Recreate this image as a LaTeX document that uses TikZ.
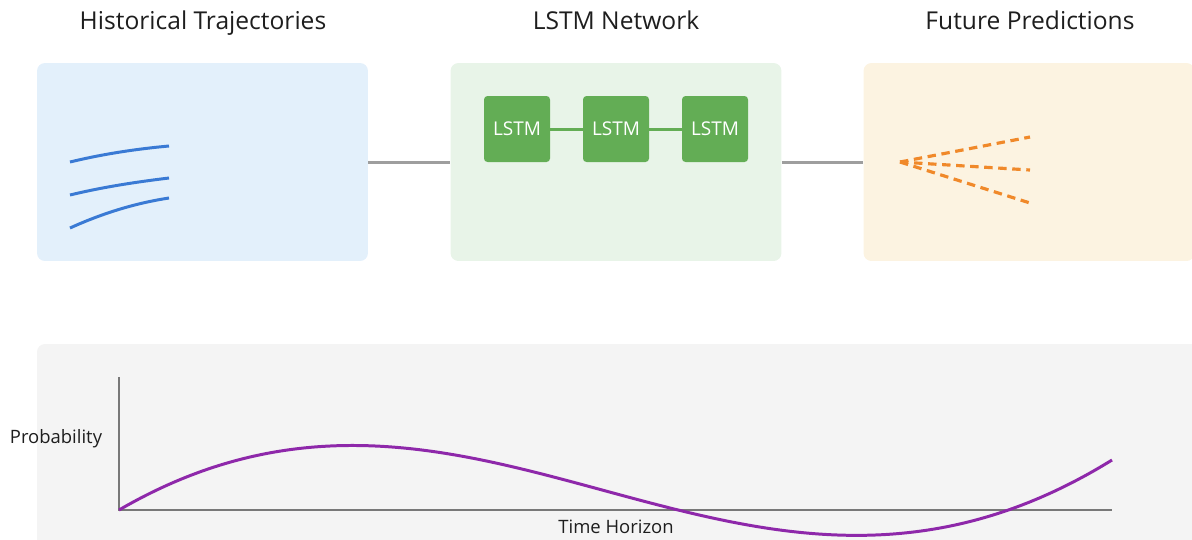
\documentclass[tikz,border=0pt]{standalone}
\usepackage{fontspec}
\setmainfont{Open Sans}

\definecolor{histfill}{RGB}{227,240,251}
\definecolor{netfill}{RGB}{232,244,232}
\definecolor{futfill}{RGB}{252,243,225}
\definecolor{plotfill}{RGB}{244,244,244}
\definecolor{cellgreen}{RGB}{99,173,85}
\definecolor{trajblue}{RGB}{58,122,212}
\definecolor{predorange}{RGB}{240,137,42}
\definecolor{probpurple}{RGB}{142,40,170}
\definecolor{linkgray}{RGB}{158,158,158}
\definecolor{axisgray}{RGB}{120,120,120}
\definecolor{textdark}{RGB}{30,30,30}

\begin{document}
\begin{tikzpicture}[x=0.02cm,y=-0.02cm,
    panel/.style={rounded corners=4.5pt, minimum width=6.62cm, minimum height=3.96cm, inner sep=0pt},
    cell/.style={fill=cellgreen, rounded corners=2pt, minimum size=1.32cm, inner sep=0pt,
                 text=white, font=\fontsize{10.8}{12}\selectfont},
    title/.style={anchor=base, text=textdark, font=\fontsize{14}{16}\selectfont},
    axislabel/.style={anchor=base, text=textdark, font=\fontsize{10.5}{12}\selectfont},
    link/.style={draw=linkgray, line width=1.7pt},
    traj/.style={draw=trajblue, line width=1.7pt},
    pred/.style={draw=predorange, line width=1.8pt, dash pattern=on 4.8pt off 3.2pt}]

\useasboundingbox (0,0) rectangle (1192,539);

% ===== Panels =====
\node[panel, fill=histfill] (hist) at (202.5,162) {};
\node[panel, fill=netfill]  (net)  at (616,162) {};
\node[panel, fill=futfill]  (fut)  at (1029,162) {};

\node[title] (histtitle) at (203,29)  {Historical Trajectories};
\node[title] (nettitle)  at (616,29)  {LSTM Network};
\node[title] (futtitle)  at (1030,29) {Future Predictions};

% ===== Links between panels =====
\draw[link] (hist.east) -- (net.west);
\draw[link] (net.east) -- (fut.west);

% ===== LSTM cells =====
\foreach \i/\x in {1/517,2/616,3/715} {
    \node[cell] (cell\i) at (\x,129) {LSTM};
}
\draw[draw=cellgreen, line width=1.7pt] (cell1) -- (cell2);
\draw[draw=cellgreen, line width=1.7pt] (cell2) -- (cell3);

% ===== Past trajectories =====
\draw[traj] (70,162) .. controls (103,154) and (136,149) .. (169,146);
\draw[traj] (70,195) .. controls (103,187) and (136,182) .. (169,178);
\draw[traj] (70,228) .. controls (103,213) and (136,203) .. (169,198);

% ===== Predicted spread =====
\coordinate (fork) at (900,162);
\foreach \y in {137,170,203} {
    \coordinate (tip) at (1030,\y);
    \draw[pred] (fork) -- (tip);
}

% ===== Probability over time =====
\fill[plotfill, rounded corners=4.5pt] (37,344) rectangle (1215,570);
\coordinate (origin) at (119,510);
\coordinate (ytop) at (119,377);
\coordinate (xend) at (1112,510);
\draw[draw=axisgray, line width=1.1pt] (ytop) -- (origin) -- (xend);

\node[axislabel] (ylabel) at (56,443)  {Probability};
\node[axislabel] (xlabel) at (616,533) {Time Horizon};

\draw[draw=probpurple, line width=1.7pt]
    (origin) .. controls (480,300) and (740,690) .. (1112,460);

\end{tikzpicture}
\end{document}
